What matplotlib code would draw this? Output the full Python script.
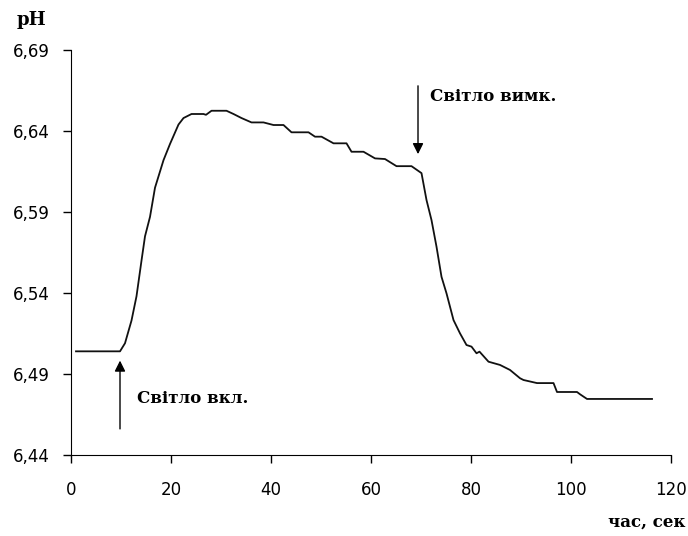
import matplotlib.pyplot as plt

# time (s) and pH
time_s = [1, 9.8, 10.8, 12.1, 13.1, 14.1, 14.8, 15.8, 16.8, 18.5, 19.8, 21.5, 22.5,
          24.1, 26.5, 27.0, 28.1, 31.1, 32.5, 34.1, 36.1, 38.5, 40.5, 42.5, 44.1,
          47.5, 48.8, 50.1, 52.5, 55.1, 56.1, 58.5, 60.8, 62.8, 65.1, 68.1, 70.1,
          71.1, 72.1, 73.1, 74.1, 75.1, 76.5, 77.8, 79.1, 80.1, 81.1, 81.7, 83.5,
          85.8, 87.8, 89.8, 90.5, 93.2, 96.5, 97.2, 101.2, 101.8, 103.2, 116.2]
ph = [6.504, 6.504, 6.509, 6.523, 6.538, 6.560, 6.575, 6.587, 6.605, 6.622, 6.632, 6.644, 6.648,
      6.6505, 6.6505, 6.650, 6.6525, 6.6525, 6.6505, 6.648, 6.6453, 6.6453, 6.6437, 6.6437, 6.6392,
      6.6392, 6.6365, 6.6365, 6.6324, 6.6324, 6.6272, 6.6272, 6.6231, 6.6227, 6.6183, 6.6183, 6.614,
      6.5974, 6.585, 6.5686, 6.550, 6.5398, 6.5233, 6.5151, 6.5079, 6.5069, 6.5028, 6.5038, 6.4976,
      6.4956, 6.4925, 6.4874, 6.4863, 6.4844, 6.4844, 6.4789, 6.4789, 6.4775, 6.4746, 6.4746]

yticks = [6.44, 6.49, 6.54, 6.59, 6.64, 6.69]
xticks = [0, 20, 40, 60, 80, 100, 120]

fig = plt.figure(figsize=(6.88, 5.36), dpi=100)
ax = fig.add_axes([0.1032, 0.1511, 0.8721, 0.7556])

ax.plot(time_s, ph, color='#111111', lw=1.3)

ax.set_xlim(0, 120)
ax.set_ylim(6.44, 6.69)
ax.set_xticks(xticks)
ax.set_yticks(yticks)
ax.set_yticklabels([f"{v:.2f}".replace('.', ',') for v in yticks])
ax.tick_params(direction='out', length=6, width=1, labelsize=12)
ax.tick_params(axis='x', pad=13)
ax.tick_params(axis='y', pad=9)
for lab in ax.get_xticklabels() + ax.get_yticklabels():
    lab.set_fontfamily('DejaVu Sans')
ax.spines['top'].set_visible(False)
ax.spines['right'].set_visible(False)

serif = dict(family='DejaVu Serif', weight='bold', fontsize=12)
fig.text(0.024, 0.962, 'pH', va='center', ha='left', family='DejaVu Serif', weight='bold', fontsize=13)
fig.text(0.884, 0.026, 'час, сек', va='center', ha='left', **serif)

ax.annotate('', xy=(9.8, 6.5), xytext=(9.8, 6.4544),
            arrowprops=dict(arrowstyle='-|>', color='black', lw=1, mutation_scale=16))
ax.text(13.2, 6.475, 'Світло вкл.', va='center', ha='left', **serif)

ax.annotate('', xy=(69.4, 6.624), xytext=(69.4, 6.6696),
            arrowprops=dict(arrowstyle='-|>', color='black', lw=1, mutation_scale=16))
ax.text(71.8, 6.661, 'Світло вимк.', va='center', ha='left', **serif)

fig.savefig('out.png', dpi=100)
